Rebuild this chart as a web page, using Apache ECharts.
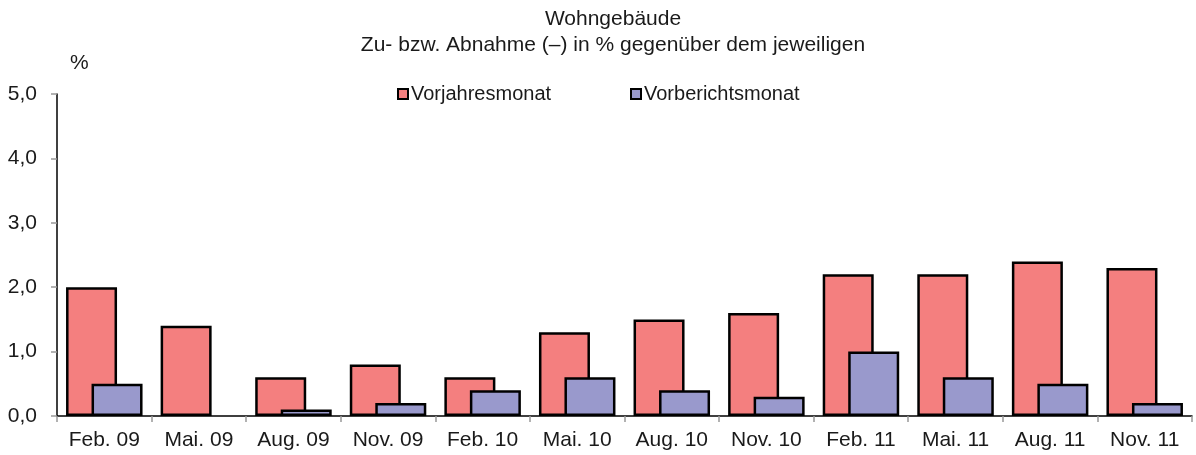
<!DOCTYPE html>
<html>
<head>
<meta charset="utf-8">
<script src="https://cdn.jsdelivr.net/npm/echarts@6/dist/echarts.min.js"></script>
<style>
  html, body { margin: 0; padding: 0; background: #fff; }
  #chart { width: 1196px; height: 455px; }
</style>
</head>
<body>
<div id="chart"></div>
<script>
var categories = ['Feb. 09', 'Mai. 09', 'Aug. 09', 'Nov. 09', 'Feb. 10', 'Mai. 10',
                  'Aug. 10', 'Nov. 10', 'Feb. 11', 'Mai. 11', 'Aug. 11', 'Nov. 11'];
var vorjahresmonat = [2.0, 1.4, 0.6, 0.8, 0.6, 1.3, 1.5, 1.6, 2.2, 2.2, 2.4, 2.3];
var vorberichtsmonat = [0.5, 0.0, 0.1, 0.2, 0.4, 0.6, 0.4, 0.3, 1.0, 0.6, 0.5, 0.2];
var yTicks = { min: 0, max: 5, interval: 1 };

// zero-height bars are not drawn in the original
function noZero(arr) {
    return arr.map(function (v) { return v === 0 ? '-' : v; });
}

var font = 'Liberation Sans, Arial, sans-serif';
var myChart = echarts.init(document.getElementById('chart'));
var option = {
    animation: false,
    textStyle: { fontFamily: font },
    title: [{
        text: 'Wohngebäude\nZu- bzw. Abnahme (–) in % gegenüber dem jeweiligen',
        left: 608,
        top: 1,
        textAlign: 'center',
        textStyle: { fontSize: 21, fontWeight: 'normal', color: '#1a1a1a', lineHeight: 26, fontFamily: font }
    }, {
        text: '%',
        left: 65,
        top: 48,
        textStyle: { fontSize: 21, fontWeight: 'normal', color: '#1a1a1a', fontFamily: font }
    }],
    legend: [{
        data: ['Vorjahresmonat'],
        left: 392,
        top: 79,
        icon: 'rect',
        itemWidth: 10,
        itemHeight: 10,
        itemGap: 0,
        itemStyle: { borderColor: '#000', borderWidth: 2 },
        textStyle: { fontSize: 20, color: '#1a1a1a', padding: [0, 0, 0, -2], fontFamily: font }
    }, {
        data: ['Vorberichtsmonat'],
        left: 625,
        top: 79,
        icon: 'rect',
        itemWidth: 10,
        itemHeight: 10,
        itemGap: 0,
        itemStyle: { borderColor: '#000', borderWidth: 2 },
        textStyle: { fontSize: 20, color: '#1a1a1a', padding: [0, 0, 0, -2], fontFamily: font }
    }],
    grid: {
        left: 57,
        right: 4,
        top: 94,
        bottom: 39,
        containLabel: false
    },
    xAxis: {
        type: 'category',
        data: categories,
        axisLine: { show: true, lineStyle: { color: '#000', width: 1.5 } },
        axisTick: { show: true, length: 6, lineStyle: { color: '#999', width: 1.5 } },
        axisLabel: { fontSize: 21, color: '#1a1a1a', margin: 14, fontFamily: font },
        splitLine: { show: false }
    },
    yAxis: {
        type: 'value',
        min: yTicks.min,
        max: yTicks.max,
        interval: yTicks.interval,
        axisLine: { show: true, lineStyle: { color: '#000', width: 1.5 } },
        axisTick: { show: true, length: 6, lineStyle: { color: '#999', width: 1.5 } },
        axisLabel: {
            fontSize: 21, color: '#1a1a1a', margin: 20, fontFamily: font,
            formatter: function (v) { return v.toFixed(1).replace('.', ','); }
        },
        splitLine: { show: false }
    },
    series: [{
        name: 'Vorjahresmonat',
        type: 'bar',
        data: noZero(vorjahresmonat),
        barWidth: 51,
        barGap: '-50%',
        itemStyle: { color: '#F47F7F', borderColor: '#000', borderWidth: 2.5 }
    }, {
        name: 'Vorberichtsmonat',
        type: 'bar',
        data: noZero(vorberichtsmonat),
        barWidth: 51,
        barGap: '-50%',
        itemStyle: { color: '#9999CC', borderColor: '#000', borderWidth: 2.5 }
    }]
};
myChart.setOption(option);
</script>
</body>
</html>
